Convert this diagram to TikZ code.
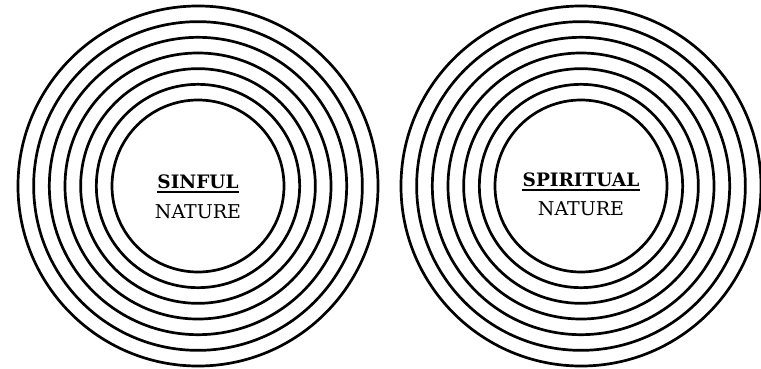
\documentclass[tikz,border=0pt]{standalone}
\usepackage{fontspec}
\setmainfont{DejaVu Serif}
\usepackage{tikz}

\begin{document}
\begin{tikzpicture}[x=1pt, y=1pt,
    ring/.style={line width=2.7pt},
    title/.style={font=\fontsize{18.5}{22}\selectfont\bfseries, inner sep=0pt, anchor=base},
    nature/.style={font=\fontsize{19}{22}\selectfont, inner sep=0pt, anchor=base},
    bar/.style={line width=2pt}]
  \useasboundingbox (0,0) rectangle (761,368);

  % 左侧同心圆
  \coordinate (lc) at (198,182);
  \foreach \i in {0,...,6}
    \draw[ring] (lc) circle ({86+15.67*\i});

  % 右侧同心圆
  \coordinate (rc) at (581,182);
  \foreach \i in {0,...,6}
    \draw[ring] (rc) circle ({86+15.67*\i});

  % 文字
  \node[title] (sinful) at (198,179.5) {SINFUL};
  \draw[bar] ([yshift=-3.5pt]sinful.base west) -- ([yshift=-3.5pt]sinful.base east);
  \node[nature] (lnature) at (198,150) {NATURE};

  \node[title] (spiritual) at (581,182) {SPIRITUAL};
  \draw[bar] ([yshift=-3.5pt]spiritual.base west) -- ([yshift=-3.5pt]spiritual.base east);
  \node[nature] (rnature) at (581,153) {NATURE};
\end{tikzpicture}
\end{document}
